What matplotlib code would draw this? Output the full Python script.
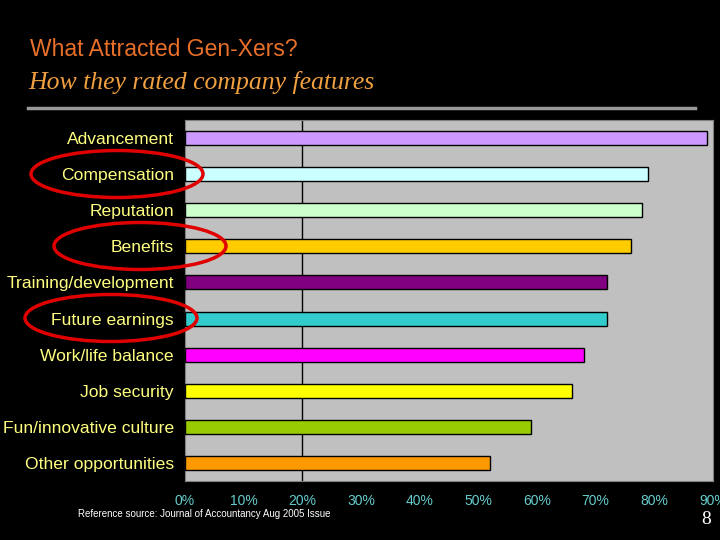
import matplotlib
matplotlib.use("Agg")
import matplotlib.pyplot as plt
from matplotlib.patches import Ellipse

features = ["Advancement", "Compensation", "Reputation", "Benefits",
            "Training/development", "Future earnings", "Work/life balance",
            "Job security", "Fun/innovative culture", "Other opportunities"]
ratings = [89, 79, 78, 76, 72, 72, 68, 66, 59, 52]
bar_colors = ["#CC99FF", "#CCFFFF", "#CCFFCC", "#FFCC00", "#800080",
              "#33CCCC", "#FF00FF", "#FFFF00", "#99CC00", "#FF9900"]
circled = ["Compensation", "Benefits", "Future earnings"]
xticks = [0, 10, 20, 30, 40, 50, 60, 70, 80, 90]

sans = ["Liberation Sans", "DejaVu Sans"]

fig = plt.figure(figsize=(7.2, 5.4), dpi=100, facecolor="black")
ax = fig.add_axes([0.257, 0.109, 0.733, 0.669])
ax.set_facecolor("#C0C0C0")

ypos = list(range(len(features)))[::-1]
ax.barh(ypos, ratings, height=0.39, color=bar_colors, edgecolor="black", linewidth=1, zorder=3)
ax.axvline(20, color="black", linewidth=1, zorder=2)
ax.set_xlim(0, 90)
ax.set_ylim(-0.5, len(features) - 0.5)

ax.set_yticks(ypos)
ax.set_yticklabels(features, color="#FFFF80", fontsize=12.6, family=sans)
ax.set_xticks(xticks)
ax.set_xticklabels([f"{t}%" for t in xticks], color="#66CCCC", fontsize=10, family=sans)
ax.tick_params(length=0)
ax.tick_params(axis="y", pad=8)
ax.tick_params(axis="x", pad=9)
for s in ax.spines.values():
    s.set_color("#808080")

# red circles around some labels (figure pixel coords)
for name in circled:
    i = features.index(name)
    yc = 138 + 36 * i
    xc = {"Compensation": 117, "Benefits": 140, "Future earnings": 111}[name]
    e = Ellipse((xc / 720, 1 - yc / 540), 172 / 720, 47 / 540, transform=fig.transFigure,
                fill=False, edgecolor="#E00000", linewidth=2.5, zorder=10)
    fig.patches.append(e)

fig.text(30 / 720, 1 - 49 / 540, "What Attracted Gen-Xers?", color="#E8702A",
         fontsize=16.5, family=sans, va="center")
fig.text(28 / 720, 1 - 82 / 540, "How they rated company features", color="#F0A040",
         fontsize=18.5, family=["Liberation Serif", "DejaVu Serif"], style="italic", va="center")
fig.add_artist(plt.Line2D([28 / 720, 695 / 720], [1 - 108 / 540, 1 - 108 / 540],
                          transform=fig.transFigure, color="#999999", linewidth=2.5))
fig.text(78 / 720, 1 - 514 / 540, "Reference source: Journal of Accountancy Aug 2005 Issue",
         color="white", fontsize=7, family=sans, va="center")
fig.text(706 / 720, 1 - 520 / 540, "8", color="white", fontsize=14,
         family=["Liberation Serif", "DejaVu Serif"], ha="center", va="center")

fig.savefig("out.png", dpi=100, facecolor="black")
